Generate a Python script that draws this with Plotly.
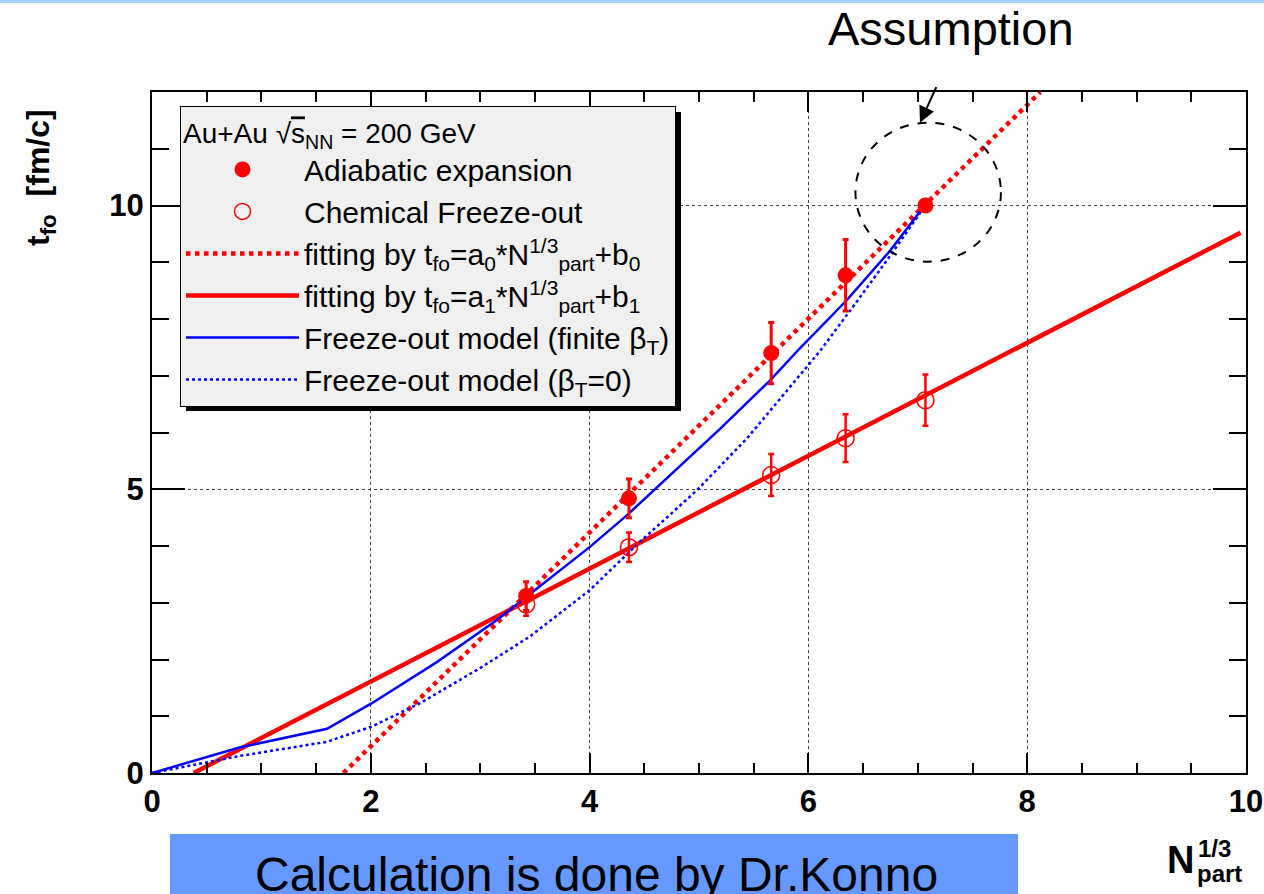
import plotly.graph_objects as go

# N_part^(1/3) of the five centrality bins
n13 = [3.42, 4.36, 5.66, 6.34, 7.07]

# adiabatic expansion (last point is the assumption, no error)
t_adiab = [3.12, 4.84, 7.40, 8.77, 10.0]
t_adiab_err = [0.25, 0.34, 0.54, 0.63, 0.0]

# chemical freeze-out
t_chem = [2.97, 3.98, 5.25, 5.90, 6.57]
t_chem_err = [0.20, 0.26, 0.37, 0.42, 0.45]

# linear fits (end points)
fit0_x = [1.75, 8.12]
fit0_y = [0.0, 12.0]
fit1_x = [0.38, 9.95]
fit1_y = [0.0, 9.52]

# freeze-out model, finite beta_T
fin_x = [0, 0.8, 1.6, 2.01, 2.6, 3.15, 3.42, 4.0, 4.34, 4.83, 5.19, 5.65, 5.92, 6.35, 6.75, 7.05]
fin_y = [0, 0.45, 0.78, 1.23, 1.95, 2.69, 3.10, 3.98, 4.54, 5.42, 6.06, 6.92, 7.48, 8.33, 9.21, 9.97]

# freeze-out model, beta_T = 0
zer_x = [0, 0.8, 1.6, 2.01, 2.45, 3.0, 3.45, 4.0, 4.43, 4.98, 5.44, 5.86, 6.1, 6.44, 6.75, 7.05]
zer_y = [0, 0.30, 0.55, 0.82, 1.23, 1.85, 2.40, 3.22, 4.02, 4.98, 5.90, 6.86, 7.42, 8.30, 9.12, 9.95]

x_ticks = [0, 2, 4, 6, 8, 10]
y_ticks = [0, 5, 10]

W, H = 1264, 894
L, R, T, B = 152, 1246, 92, 773  # frame in pixels


def px(x):
    return (x - L) / (R - L)


def py(y):
    return (B - y) / (B - T)


FONT = "Liberation Sans"
RED = "#ff0000"
BLUE = "#0000ff"

fig = go.Figure()
fig.add_trace(go.Scatter(x=fit0_x, y=fit0_y, mode="lines", legendrank=3,
                         name="fitting by t<sub>fo</sub>=a<sub>0</sub>*N<sup>1/3</sup><sub>part</sub>+b<sub>0</sub>",
                         line=dict(color=RED, width=4.5, dash="dot")))
fig.add_trace(go.Scatter(x=fit1_x, y=fit1_y, mode="lines", legendrank=4,
                         name="fitting by t<sub>fo</sub>=a<sub>1</sub>*N<sup>1/3</sup><sub>part</sub>+b<sub>1</sub>",
                         line=dict(color=RED, width=4.5)))
fig.add_trace(go.Scatter(x=fin_x, y=fin_y, mode="lines", legendrank=5,
                         name="Freeze-out model (finite β<sub>T</sub>)",
                         line=dict(color=BLUE, width=2.5)))
fig.add_trace(go.Scatter(x=zer_x, y=zer_y, mode="lines", legendrank=6,
                         name="Freeze-out model (β<sub>T</sub>=0)",
                         line=dict(color=BLUE, width=2.5, dash="dot")))
fig.add_trace(go.Scatter(x=n13, y=t_chem, mode="markers", legendrank=2,
                         name="Chemical Freeze-out",
                         marker=dict(symbol="circle-open", size=17, color=RED, line=dict(width=1.5, color=RED)),
                         error_y=dict(type="data", array=t_chem_err, color=RED, thickness=2.5, width=3)))
fig.add_trace(go.Scatter(x=n13, y=t_adiab, mode="markers", legendrank=1,
                         name="Adiabatic expansion",
                         marker=dict(symbol="circle", size=16, color=RED),
                         error_y=dict(type="data", array=t_adiab_err, color=RED, thickness=3, width=3)))

axis_common = dict(
    showline=True, linewidth=2, linecolor="black", mirror="allticks",
    ticks="inside", tickcolor="black", tickwidth=1.5,
    showgrid=True, gridcolor="#444444", griddash="dot", gridwidth=1,
    zeroline=False, automargin=False,
    tickfont=dict(family=FONT, size=31, color="black", weight="bold"),
)

fig.update_xaxes(range=[0, 10], tickvals=x_ticks, ticklen=20,
                 minor=dict(dtick=0.5, ticklen=10, ticks="inside", tickcolor="black", showgrid=False),
                 **axis_common)
fig.update_yaxes(range=[0, 12], tickvals=y_ticks, ticklen=33,
                 minor=dict(dtick=1, ticklen=17, ticks="inside", tickcolor="black", showgrid=False),
                 **axis_common)

shapes = [
    # slide decoration at the very top
    dict(type="rect", xref="paper", yref="paper", x0=px(0), x1=px(W), y0=py(3), y1=py(0),
         line=dict(width=0), fillcolor="#a8d0ff", layer="above"),
    # legend shadow
    dict(type="rect", xref="paper", yref="paper", x0=px(186), x1=px(681), y0=py(411), y1=py(112),
         line=dict(width=0), fillcolor="black", layer="above"),
    # dashed circle round the assumed point
    dict(type="circle", xref="x", yref="y", x0=6.43, x1=7.76, y0=9.01, y1=11.46,
         line=dict(color="black", width=2, dash="dash"), layer="above"),
    # bottom banner
    dict(type="rect", xref="paper", yref="paper", x0=px(170), x1=px(1018), y0=py(894), y1=py(834),
         line=dict(width=0), fillcolor="#6699ff", layer="above"),
]

annotations = [
    dict(x=7.02, y=11.46, xref="x", yref="y", ax=17, ay=-37, text="", showarrow=True,
         arrowhead=2, arrowsize=1.6, arrowwidth=2, arrowcolor="black"),
    dict(x=px(951), y=py(29), xref="paper", yref="paper", text="Assumption", showarrow=False,
         font=dict(family=FONT, size=47, color="black"), xanchor="center", yanchor="middle"),
    dict(x=px(596), y=py(874), xref="paper", yref="paper", text="Calculation is done by Dr.Konno",
         showarrow=False, font=dict(family=FONT, size=48, color="black"), xanchor="center", yanchor="middle"),
    dict(x=px(40), y=py(178), xref="paper", yref="paper", text="t<sub>fo</sub>  [fm/c]", textangle=-90,
         showarrow=False, font=dict(family=FONT, size=32, color="black", weight="bold"),
         xanchor="center", yanchor="middle"),
    dict(x=px(1180), y=py(860), xref="paper", yref="paper", text="N", showarrow=False,
         font=dict(family=FONT, size=38, color="black", weight="bold"), xanchor="center", yanchor="middle"),
    dict(x=px(1196), y=py(848), xref="paper", yref="paper", text="1/3", showarrow=False,
         font=dict(family=FONT, size=24, color="black", weight="bold"), xanchor="left", yanchor="middle"),
    dict(x=px(1195), y=py(873), xref="paper", yref="paper", text="part", showarrow=False,
         font=dict(family=FONT, size=24, color="black", weight="bold"), xanchor="left", yanchor="middle"),
]

fig.update_layout(
    width=W, height=H,
    margin=dict(l=L, r=W - R, t=T, b=H - B, pad=0, autoexpand=False),
    paper_bgcolor="white", plot_bgcolor="white",
    font=dict(family=FONT, color="black"),
    showlegend=True,
    legend=dict(
        x=px(180), y=py(106), xanchor="left", yanchor="top",
        bgcolor="#f0f0f0", bordercolor="black", borderwidth=1,
        font=dict(family=FONT, size=30, color="black"),
        title=dict(text="Au+Au √<span style='text-decoration:overline'>s</span><sub>NN</sub> = 200 GeV",
                   font=dict(family=FONT, size=28, color="black")),
        itemwidth=113, tracegroupgap=0,
    ),
    shapes=shapes,
    annotations=annotations,
)

fig.write_html("out.html", config={"displayModeBar": False},
               post_script="document.body.style.margin='0';")
